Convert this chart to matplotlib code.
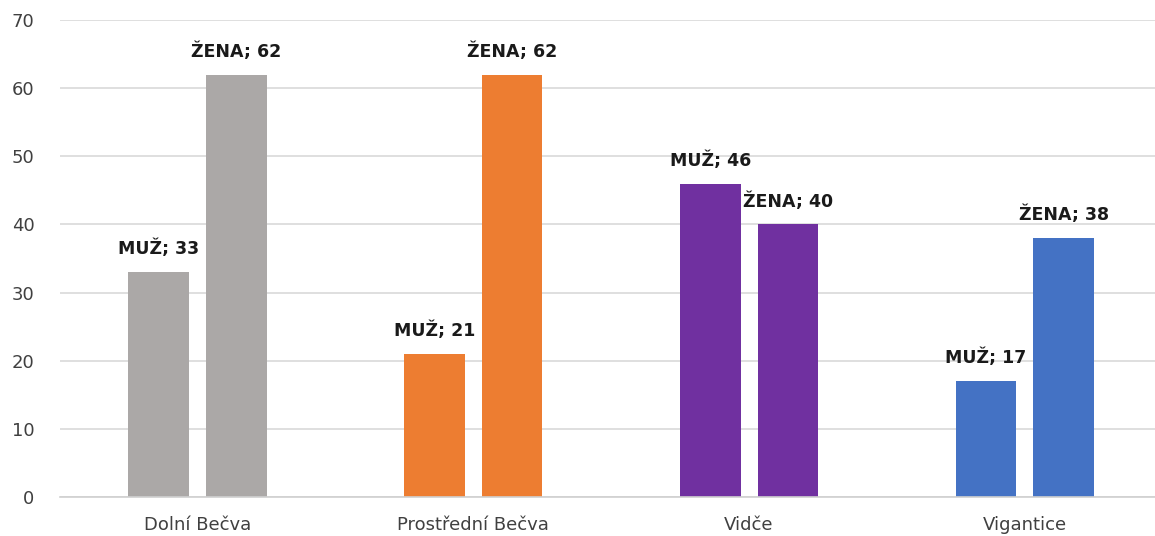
import numpy as np
from matplotlib import pyplot as plt

# data
obce = ['Dolní Bečva', 'Prostřední Bečva', 'Vidče', 'Vigantice']
muz = [33, 21, 46, 17]
zena = [62, 62, 40, 38]
barvy = ['#ABA8A7', '#ED7D31', '#7030A0', '#4472C4']

fig = plt.figure(figsize=(11.55, 5.36), dpi=100)
ax = fig.add_axes([0.0516, 0.0728, 0.9484, 0.8899])

x = np.arange(len(obce))
off = 0.141
w = 0.22

b1 = ax.bar(x - off, muz, w, color=barvy, zorder=2)
b2 = ax.bar(x + off, zena, w, color=barvy, zorder=2)

for rect, v in zip(b1, muz):
    ax.annotate(f'MUŽ; {v}', (rect.get_x() + rect.get_width() / 2, v),
                xytext=(0, 10), textcoords='offset points', ha='center', va='bottom',
                fontsize=12.5, fontweight='bold', color='#1a1a1a')
for rect, v in zip(b2, zena):
    ax.annotate(f'ŽENA; {v}', (rect.get_x() + rect.get_width() / 2, v),
                xytext=(0, 10), textcoords='offset points', ha='center', va='bottom',
                fontsize=12.5, fontweight='bold', color='#1a1a1a')

ax.set_ylim(0, 70)
ax.set_yticks(range(0, 71, 10))
ax.set_xlim(-0.5, 3.472)
ax.set_xticks(x)
ax.set_xticklabels(obce)

ax.grid(axis='y', color='#D9D9D9', linewidth=1.2, zorder=0)
for s in ['top', 'right', 'left']:
    ax.spines[s].set_visible(False)
ax.spines['bottom'].set_color('#D0D0D0')
ax.spines['bottom'].set_linewidth(1.2)
ax.tick_params(axis='both', length=0, labelsize=13, labelcolor='#404040')
ax.tick_params(axis='x', pad=14)
ax.tick_params(axis='y', pad=18)

fig.savefig('out.png', dpi=100)
